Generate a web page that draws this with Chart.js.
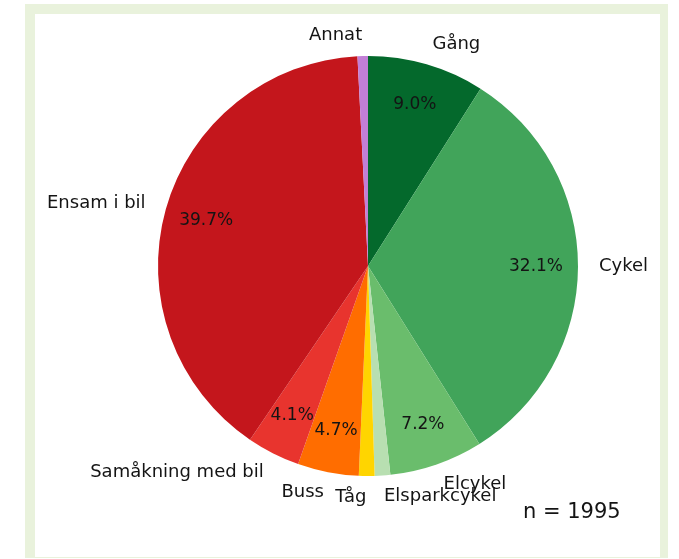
<!DOCTYPE html>
<html>
<head>
<meta charset="utf-8">
<script src="https://cdn.jsdelivr.net/npm/chart.js@4"></script>
<style>
  html, body { margin: 0; padding: 0; background: #fff; }
  body { width: 679px; height: 559px; position: relative; overflow: hidden; }
  .frame {
    position: absolute; left: 25px; top: 4px; width: 643px; height: 554px;
    background: #e9f2dc; box-sizing: border-box; padding: 10px 8px 1px 10px;
  }
  .inner { width: 100%; height: 100%; background: #fff; }
  #chart { position: absolute; left: 0; top: 0; }
</style>
</head>
<body>
<div class="frame"><div class="inner"></div></div>
<canvas id="chart" width="679" height="559"></canvas>
<script>
// travel modes, clockwise from 12 o'clock
const categories = ['Gång', 'Cykel', 'Elcykel', 'Elsparkcykel', 'Tåg', 'Buss', 'Samåkning med bil', 'Ensam i bil', 'Annat'];
const shares = [9.0, 32.1, 7.2, 1.2, 1.2, 4.7, 4.1, 39.7, 0.8];
const colors = ['#04692c', '#41a45a', '#6abd6c', '#b8dfb1', '#ffd500', '#ff6d00', '#e8342e', '#c4161c', '#c27fd6'];
const respondents = 1995;

const pieLabels = {
    id: 'pieLabels',
    afterDatasetsDraw(chart) {
        const ctx = chart.ctx;
        const arcs = chart.getDatasetMeta(0).data;
        const total = shares.reduce((a, b) => a + b, 0);
        ctx.save();
        ctx.fillStyle = '#141414';
        ctx.textBaseline = 'middle';
        arcs.forEach((arc, i) => {
            const p = arc.getProps(['x', 'y', 'startAngle', 'endAngle', 'outerRadius'], true);
            const mid = (p.startAngle + p.endAngle) / 2;
            const c = Math.cos(mid), s = Math.sin(mid);
            // category name outside
            ctx.font = '18px "DejaVu Sans"';
            ctx.textAlign = c > 0 ? 'left' : 'right';
            ctx.fillText(categories[i], p.x + 1.1 * p.outerRadius * c, p.y + 1.1 * p.outerRadius * s);
            // percentage inside, only for the bigger slices
            const pct = shares[i] / total * 100;
            if (pct >= 4) {
                ctx.font = '17px "DejaVu Sans"';
                ctx.textAlign = 'center';
                ctx.fillText(pct.toFixed(1) + '%', p.x + 0.8 * p.outerRadius * c, p.y + 0.8 * p.outerRadius * s);
            }
        });
        ctx.font = '21px "DejaVu Sans"';
        ctx.textAlign = 'left';
        ctx.fillText('n = ' + respondents, 523, 513);
        ctx.restore();
    }
};

new Chart(document.getElementById('chart'), {
    type: 'pie',
    data: {
        labels: categories,
        datasets: [{
            data: shares,
            backgroundColor: colors,
            borderWidth: 0,
            hoverOffset: 0,
            offset: 0
        }]
    },
    options: {
        responsive: false,
        animation: false,
        events: [],
        layout: {
            padding: { left: 158, right: 101, top: 56, bottom: 83 }
        },
        plugins: {
            legend: { display: false },
            tooltip: { enabled: false }
        }
    },
    plugins: [pieLabels]
});
</script>
</body>
</html>
